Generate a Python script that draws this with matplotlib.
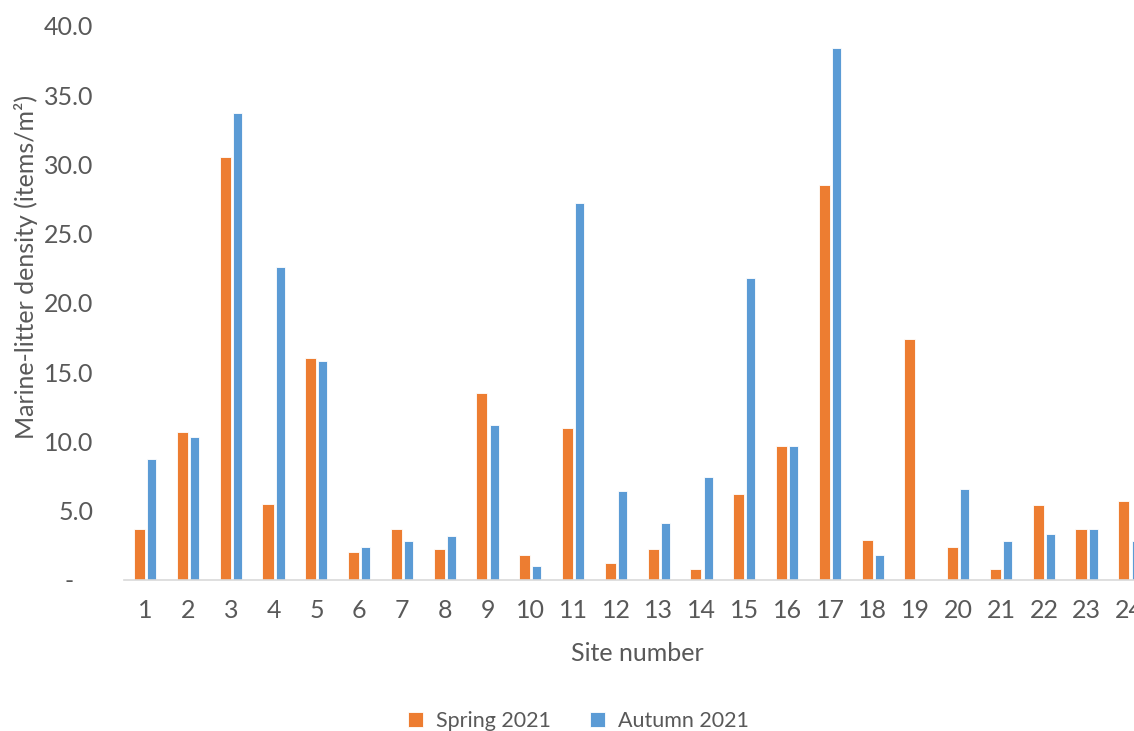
import matplotlib
matplotlib.use("Agg")
import matplotlib.pyplot as plt
import numpy as np

plt.rcParams['font.family'] = ['Lato', 'DejaVu Sans']

# site numbers and densities (items/m2)
sites = [str(i) for i in range(1, 25)]
spring = [3.7, 10.7, 30.5, 5.5, 16.0, 2.0, 3.7, 2.2, 13.5, 1.8, 11.0, 1.2,
          2.2, 0.8, 6.2, 9.7, 28.5, 2.9, 17.4, 2.4, 0.8, 5.4, 3.7, 5.7]
autumn = [8.7, 10.3, 33.7, 22.6, 15.8, 2.4, 2.8, 3.2, 11.2, 1.0, 27.2, 6.4,
          4.1, 7.4, 21.8, 9.7, 38.4, 1.8, 0.0, 6.6, 2.8, 3.3, 3.7, 2.8]
yticks = [0, 5, 10, 15, 20, 25, 30, 35, 40]
ytick_labels = ['-   ', '5.0', '10.0', '15.0', '20.0', '25.0', '30.0', '35.0', '40.0']

orange = '#ED7D31'
blue = '#5B9BD5'
grey_txt = '#595959'

fig = plt.figure(figsize=(11.34, 7.31), dpi=100)
ax = fig.add_axes([0.1093, 0.2066, 0.9057, 0.7582])

x = np.arange(len(sites))
ax.bar(x - 0.135, spring, width=0.26, color=orange, edgecolor='white', linewidth=0.6, label='Spring 2021')
ax.bar(x + 0.15, autumn, width=0.21, color=blue, edgecolor='white', linewidth=0.6, label='Autumn 2021')

ax.set_xlim(-0.5, len(sites) - 0.5)
ax.set_ylim(0, 40)
ax.set_xticks(x)
ax.set_xticklabels(sites)
ax.set_yticks(yticks)
ax.set_yticklabels(ytick_labels)
ax.tick_params(axis='both', length=0, labelsize=18, labelcolor=grey_txt)
ax.tick_params(axis='y', pad=22)
ax.tick_params(axis='x', pad=14)

for s in ['top', 'right', 'left']:
    ax.spines[s].set_visible(False)
ax.spines['bottom'].set_color('#D9D9D9')
ax.spines['bottom'].set_linewidth(1.2)

ax.set_xlabel('Site number', fontsize=18, color=grey_txt)
ax.xaxis.set_label_coords(0.5, -0.112)
ax.set_ylabel('Marine-litter density (items/m²)', fontsize=18, color=grey_txt)
ax.yaxis.set_label_coords(-0.084, 0.565)

fig.legend(loc='center', bbox_to_anchor=(0.51, 0.013), ncol=2, frameon=False,
           fontsize=15.5, labelcolor=grey_txt, handlelength=0.7, handleheight=0.7,
           columnspacing=1.8, handletextpad=0.6)

fig.savefig('out.png', dpi=100)
